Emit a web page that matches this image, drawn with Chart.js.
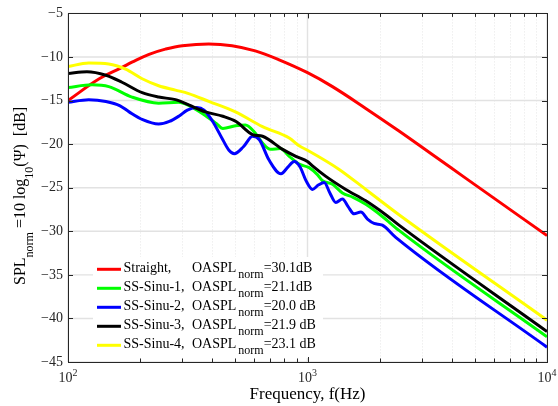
<!DOCTYPE html>
<html>
<head>
<meta charset="utf-8">
<script src="https://cdn.jsdelivr.net/npm/chart.js@4"></script>
<style>
  body { margin: 0; background: #fff; }
  canvas { display: block; }
</style>
</head>
<body>
<canvas id="c" width="558" height="406"></canvas>
<script>
// frequency (Hz) and SPL_norm (dB)
const freqStraight = [100, 135, 168, 185, 218, 255, 300, 387, 484, 605, 757, 1000, 1271, 1751, 2410, 3318, 4571, 6295, 10000];
const splStraight = [-15.0, -12.5, -11.2, -10.6, -9.7, -9.1, -8.7, -8.5, -8.7, -9.3, -10.3, -11.8, -13.4, -15.9, -18.5, -21.2, -23.9, -26.6, -30.5];

const freqSinu1 = [100, 126, 148, 185, 239, 290, 321, 365, 415, 443, 500, 550, 600, 650, 700, 770, 839, 923, 1016, 1100, 1155, 1271, 1399, 1550, 1751, 2054, 2410, 10000];
const splSinu1 = [-13.5, -13.2, -13.4, -14.6, -15.3, -15.2, -15.6, -16.5, -17.6, -18.2, -17.9, -17.8, -18.6, -19.9, -20.6, -20.5, -21.4, -22.3, -22.7, -23.5, -24.2, -24.6, -25.6, -26.1, -26.9, -28.3, -29.9, -42.1];

const freqSinu2 = [100, 122, 144, 165, 180, 205, 239, 265, 290, 315, 345, 370, 402, 443, 470, 495, 540, 590, 630, 690, 775, 830, 880, 930, 990, 1049, 1110, 1174, 1240, 1313, 1399, 1480, 1565, 1670, 1780, 1896, 2054, 2335, 10000];
const splSinu2 = [-15.2, -14.9, -15.1, -15.6, -16.3, -17.2, -17.7, -17.4, -16.8, -16.1, -15.8, -16.1, -17.4, -19.5, -20.7, -21.1, -20.3, -19.1, -19.5, -21.8, -23.4, -22.6, -22.0, -22.6, -24.3, -25.2, -24.7, -24.4, -25.6, -26.7, -26.3, -27.2, -28.0, -27.8, -28.6, -29.1, -29.3, -30.7, -43.3];

const freqSinu3 = [100, 120, 144, 168, 204, 239, 281, 319, 375, 443, 503, 590, 649, 787, 894, 1000, 1049, 1193, 1445, 1751, 2122, 2410, 10000];
const splSinu3 = [-11.9, -11.7, -12.1, -12.9, -14.1, -14.6, -14.9, -15.5, -16.3, -16.8, -17.4, -18.9, -19.1, -20.6, -21.4, -22.0, -22.5, -23.7, -25.2, -26.5, -28.1, -29.3, -41.5];

const freqSinu4 = [100, 122, 148, 174, 204, 239, 281, 319, 387, 500, 649, 839, 923, 1000, 1356, 1751, 2410, 10000];
const splSinu4 = [-11.1, -10.7, -10.8, -11.4, -12.5, -13.3, -13.8, -14.2, -15.1, -16.3, -18.0, -19.3, -20.2, -20.7, -22.9, -25.2, -28.1, -40.2];

const seriesNames = ['Straight,', 'SS-Sinu-1,', 'SS-Sinu-2,', 'SS-Sinu-3,', 'SS-Sinu-4,'];
const oasplText = ['=30.1dB', '=21.1dB', '=20.0 dB', '=21.9 dB', '=23.1 dB'];
const seriesColors = ['#ff0000', '#00ff00', '#0000ff', '#000000', '#ffff00'];

const xMajor = [100, 1000, 10000];
const yTicks = [-45, -40, -35, -30, -25, -20, -15, -10, -5];

const SERIF = '"Liberation Serif", "Times New Roman", serif';
const AXIS = '#262626';

function pts(fx, fy) {
    return fx.map((f, i) => ({ x: f, y: fy[i] }));
}

const allFreq = [freqStraight, freqSinu1, freqSinu2, freqSinu3, freqSinu4];
const allSpl = [splStraight, splSinu1, splSinu2, splSinu3, splSinu4];

const datasets = allFreq.map((f, i) => ({
    label: seriesNames[i],
    data: pts(f, allSpl[i]),
    borderColor: seriesColors[i],
    borderWidth: 3,
    pointRadius: 0,
    fill: false,
    // the smooth red curve reads better as a plain spline
    cubicInterpolationMode: i === 0 ? 'default' : 'monotone',
    tension: 0.4,
    order: 4 - i
}));

function minorTicks() {
    const out = [];
    [100, 1000].forEach(d => {
        for (let k = 2; k <= 9; k++) out.push(d * k);
    });
    return out;
}

// text with a lowered subscript, returns new x
function drawRun(ctx, x, y, parts) {
    parts.forEach(p => {
        ctx.font = (p.size) + 'px ' + SERIF;
        ctx.fillText(p.t, x, y + (p.dy || 0));
        x += ctx.measureText(p.t).width + (p.gap || 0);
    });
    return x;
}

const decor = {
    id: 'decor',
    beforeDatasetsDraw(chart) {
        const ctx = chart.ctx;
        const a = chart.chartArea;
        const xs = chart.scales.x;
        const ys = chart.scales.y;
        ctx.save();
        ctx.lineWidth = 1;
        // minor dotted grid
        ctx.strokeStyle = '#e6e6e6';
        ctx.setLineDash([1, 2]);
        minorTicks().forEach(v => {
            const px = Math.round(xs.getPixelForValue(v)) + 0.5;
            ctx.beginPath();
            ctx.moveTo(px, a.top);
            ctx.lineTo(px, a.bottom);
            ctx.stroke();
        });
        ctx.setLineDash([]);
        // major grid
        ctx.strokeStyle = '#e2e2e2';
        ctx.lineWidth = 1.4;
        xMajor.forEach(v => {
            const px = xs.getPixelForValue(v);
            ctx.beginPath();
            ctx.moveTo(px, a.top);
            ctx.lineTo(px, a.bottom);
            ctx.stroke();
        });
        yTicks.forEach(v => {
            const py = ys.getPixelForValue(v);
            ctx.beginPath();
            ctx.moveTo(a.left, py);
            ctx.lineTo(a.right, py);
            ctx.stroke();
        });
        ctx.restore();
    },
    afterDatasetsDraw(chart) {
        const ctx = chart.ctx;
        const a = chart.chartArea;
        const xs = chart.scales.x;
        const ys = chart.scales.y;
        ctx.save();

        // legend
        ctx.fillStyle = '#ffffff';
        ctx.fillRect(93, 257, 230, 101);
        ctx.textAlign = 'left';
        ctx.textBaseline = 'alphabetic';
        seriesNames.forEach((name, i) => {
            const cy = 269.3 + 19 * i;
            ctx.strokeStyle = seriesColors[i];
            ctx.lineWidth = 3;
            ctx.beginPath();
            ctx.moveTo(97, cy);
            ctx.lineTo(121, cy);
            ctx.stroke();
            ctx.fillStyle = '#000000';
            const base = cy + 3;
            drawRun(ctx, 123.5, base, [{ t: name, size: 14 }]);
            drawRun(ctx, 192, base, [
                { t: 'OASPL', size: 14, gap: 2 },
                { t: 'norm', size: 12, dy: 6 },
                { t: oasplText[i], size: 14 }
            ]);
        });

        // frame
        ctx.strokeStyle = AXIS;
        ctx.lineWidth = 1;
        ctx.strokeRect(Math.round(a.left) + 0.5, Math.round(a.top) + 0.5,
            Math.round(a.right) - Math.round(a.left), Math.round(a.bottom) - Math.round(a.top));

        // inward ticks
        ctx.beginPath();
        const xTick = (v, len) => {
            const px = Math.round(xs.getPixelForValue(v)) + 0.5;
            ctx.moveTo(px, a.bottom);
            ctx.lineTo(px, a.bottom - len);
            ctx.moveTo(px, a.top);
            ctx.lineTo(px, a.top + len);
        };
        xMajor.forEach(v => xTick(v, 5));
        minorTicks().forEach(v => xTick(v, 3.5));
        yTicks.forEach(v => {
            const py = Math.round(ys.getPixelForValue(v)) + 0.5;
            ctx.moveTo(a.left, py);
            ctx.lineTo(a.left + 5, py);
            ctx.moveTo(a.right, py);
            ctx.lineTo(a.right - 5, py);
        });
        ctx.stroke();

        // x tick labels 10^n
        ctx.fillStyle = AXIS;
        xMajor.forEach(v => {
            const e = String(Math.round(Math.log10(v)));
            ctx.font = '14px ' + SERIF;
            const w1 = ctx.measureText('10').width;
            ctx.font = '10px ' + SERIF;
            const w2 = ctx.measureText(e).width;
            const x0 = xs.getPixelForValue(v) - (w1 + w2) / 2;
            drawRun(ctx, x0, 382, [
                { t: '10', size: 14 },
                { t: e, size: 10, dy: -6 }
            ]);
        });

        // x title
        ctx.fillStyle = '#000000';
        ctx.font = '17px ' + SERIF;
        ctx.textAlign = 'center';
        ctx.fillText('Frequency, f(Hz)', (a.left + a.right) / 2, 399);

        // y title
        ctx.textAlign = 'left';
        ctx.translate(0, 285);
        ctx.rotate(-Math.PI / 2);
        drawRun(ctx, 0, 25, [
            { t: 'SPL', size: 16 },
            { t: 'norm', size: 12, dy: 8 },
            { t: ' =10 log', size: 16 },
            { t: '10', size: 12, dy: 8 },
            { t: '(\u03A8)  [dB]', size: 16 }
        ]);

        ctx.restore();
    }
};

new Chart(document.getElementById('c'), {
    type: 'line',
    data: { datasets: datasets },
    options: {
        responsive: false,
        animation: false,
        layout: { padding: { top: 11, right: 11, left: 0, bottom: 0 } },
        plugins: {
            legend: { display: false },
            tooltip: { enabled: false }
        },
        scales: {
            x: {
                type: 'logarithmic',
                min: 100,
                max: 10000,
                ticks: { display: false },
                grid: { display: false, drawTicks: false },
                border: { display: false },
                afterFit: s => { s.height = 44; }
            },
            y: {
                min: -45,
                max: -5,
                ticks: {
                    stepSize: 5,
                    padding: 5,
                    color: AXIS,
                    font: { family: SERIF, size: 14 },
                    callback: v => String(v).replace('-', '\u2212')
                },
                grid: { display: false, drawTicks: false },
                border: { display: false },
                afterFit: s => { s.width = 68; }
            }
        }
    },
    plugins: [decor]
});
</script>
</body>
</html>
